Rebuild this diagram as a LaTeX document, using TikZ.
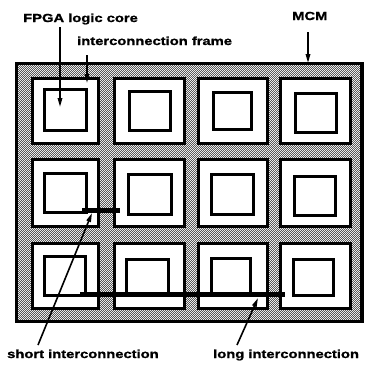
\documentclass[tikz,border=0pt]{standalone}
\usepackage{fontspec}
\newfontfamily\lblfont{Liberation Sans}[FakeStretch=1.26,FakeBold=1.2]
\usetikzlibrary{arrows.meta,patterns.meta}
\tikzdeclarepattern{name=dither, type=uncolored,
  bounding box={(0,0) and (2.4pt,2.4pt)}, tile size={(2.4pt,2.4pt)},
  code={\fill (0,0) rectangle (1.2pt,1.2pt); \fill (1.2pt,1.2pt) rectangle (2.4pt,2.4pt);}}
\begin{document}
\begin{tikzpicture}[x=1pt,y=-1pt,
  lbl/.style={font=\lblfont\bfseries\fontsize{11.7}{14}\selectfont, inner sep=0pt, anchor=base west},
  mcmbox/.style={draw, line width=3.2pt, pattern=dither, pattern color=black!65},
  cellbox/.style={draw, fill=white, line width=3.5pt},
  corebox/.style={draw, fill=white, line width=2.8pt},
  wire/.style={line width=5pt},
  pointer/.style={line width=1.6pt, -{Triangle[length=9pt,width=4.5pt]}}]
\useasboundingbox (0,0) rectangle (367,372);
% MCM substrate
\draw[mcmbox] (16.5,63.5) rectangle (362,321.5);
% interconnection frames (cells)
\foreach \ya/\yb in {78.7/143.3, 159.7/226.3, 243.7/308.3}{
  \foreach \xa/\xb in {32.7/98.3, 114.7/184.3, 198.7/267.3, 280.7/350.3}{
    \draw[cellbox] (\xa,\ya) rectangle (\xb,\yb);
  }
}
% FPGA logic cores
\draw[corebox] (44.4,89.4) rectangle (86.6,130.6);
\draw[corebox] (129.4,91.4) rectangle (170.6,130.6);
\draw[corebox] (213.4,92.4) rectangle (251.6,129.6);
\draw[corebox] (295.4,93.4) rectangle (336.6,132.6);
\draw[corebox] (44.4,173.4) rectangle (86.6,212.6);
\draw[corebox] (128.4,174.4) rectangle (171.6,214.6);
\draw[corebox] (211.4,174.4) rectangle (253.6,214.6);
\draw[corebox] (294.4,176.4) rectangle (335.6,215.6);
\draw[corebox] (44.4,256.4) rectangle (85.6,295.6);
\draw[corebox] (126.4,259.4) rectangle (168.6,294.6);
\draw[corebox] (211.4,258.4) rectangle (250.6,295.6);
\draw[corebox] (293.4,259.4) rectangle (333.6,295.6);
% interconnections
\coordinate (sa) at (82,210.5);
\coordinate (sb) at (120,210.5);
\coordinate (la) at (80,294);
\coordinate (lb) at (285,294);
\draw[wire] (sa) -- (sb);
\draw[wire] (la) -- (lb);
% labels
\node[lbl] (fpga) at (23,22) {FPGA logic core};
\node[lbl] (frame) at (77,45) {interconnection frame};
\node[lbl] (mcm) at (292,20) {MCM};
\node[lbl] (short) at (7,358) {short interconnection};
\node[lbl] (long) at (213,358) {long interconnection};
% pointers
\coordinate (p1s) at (60,27);   \coordinate (p1t) at (60,107);
\coordinate (p2s) at (87,55);   \coordinate (p2t) at (87,83);
\coordinate (p3s) at (308,32);  \coordinate (p3t) at (308,63);
\coordinate (p4s) at (38,345);  \coordinate (p4t) at (92,213);
\coordinate (p5s) at (237,345); \coordinate (p5t) at (258,298);
\draw[pointer] (p1s) -- (p1t);
\draw[pointer] (p2s) -- (p2t);
\draw[pointer] (p3s) -- (p3t);
\draw[pointer] (p4s) -- (p4t);
\draw[pointer] (p5s) -- (p5t);
\end{tikzpicture}
\end{document}
